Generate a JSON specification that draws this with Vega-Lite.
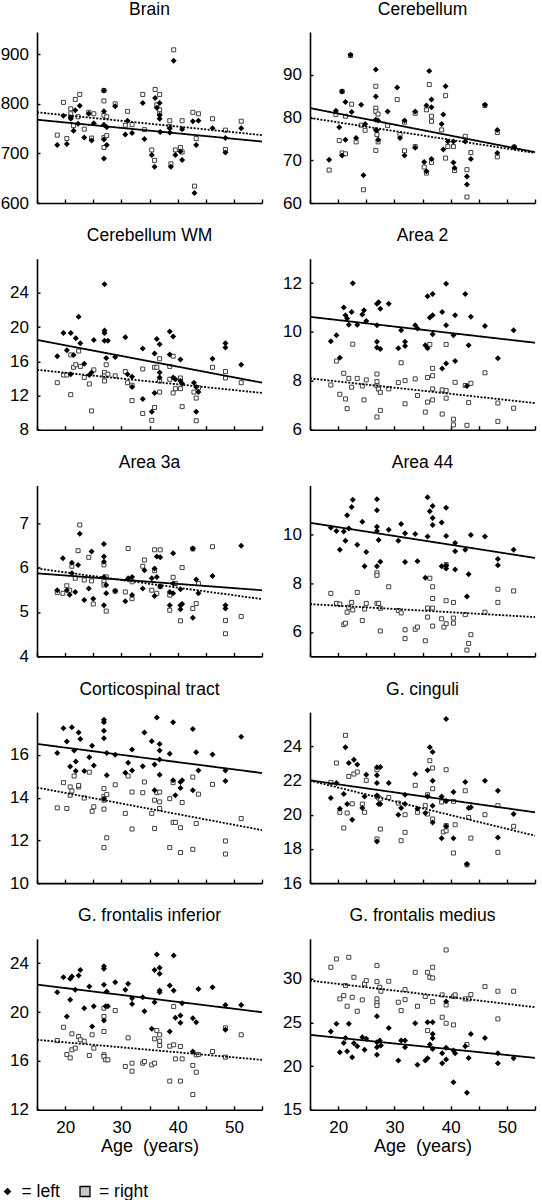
{
"$schema":"https://vega.github.io/schema/vega-lite/v6.json",
"padding":{"left":0,"top":0,"right":0,"bottom":0},
"columns":2,
"bounds":"flush",
"spacing":{"row":55.7,"column":48},
"datasets":{
"p1L":[{"a":18.6,"v":717},{"a":19.7,"v":776},{"a":20.3,"v":719},{"a":21.0,"v":773},{"a":21.0,"v":770},{"a":21.5,"v":746},{"a":21.8,"v":787},{"a":22.3,"v":760},{"a":22.6,"v":796},{"a":23.4,"v":732},{"a":24.2,"v":780},{"a":24.7,"v":726},{"a":25.1,"v":761},{"a":26.9,"v":827},{"a":26.9,"v":785},{"a":26.9,"v":758},{"a":26.9,"v":690},{"a":26.9,"v":728},{"a":27.4,"v":753},{"a":27.4,"v":717},{"a":28.9,"v":795},{"a":30.7,"v":738},{"a":31.1,"v":766},{"a":31.9,"v":741},{"a":33.8,"v":802},{"a":34.1,"v":729},{"a":35.4,"v":697},{"a":35.9,"v":673},{"a":36.0,"v":812},{"a":36.3,"v":792},{"a":36.8,"v":802},{"a":36.8,"v":777},{"a":36.8,"v":770},{"a":36.9,"v":743},{"a":38.6,"v":751},{"a":38.6,"v":742},{"a":38.8,"v":673},{"a":39.3,"v":887},{"a":39.6,"v":697},{"a":40.5,"v":704},{"a":40.8,"v":749},{"a":40.8,"v":687},{"a":42.7,"v":765},{"a":43.0,"v":620},{"a":43.3,"v":717},{"a":43.7,"v":766},{"a":46.2,"v":751},{"a":48.5,"v":731},{"a":48.5,"v":702},{"a":51.3,"v":751}],
"p1R":[{"a":18.6,"v":737},{"a":19.7,"v":803},{"a":20.3,"v":730},{"a":21.0,"v":790},{"a":21.0,"v":780},{"a":21.5,"v":756},{"a":21.8,"v":809},{"a":22.3,"v":774},{"a":22.6,"v":819},{"a":23.4,"v":749},{"a":24.2,"v":783},{"a":24.7,"v":731},{"a":25.1,"v":780},{"a":26.9,"v":827},{"a":26.9,"v":806},{"a":26.9,"v":777},{"a":26.9,"v":712},{"a":26.9,"v":732},{"a":27.4,"v":774},{"a":27.4,"v":736},{"a":28.9,"v":800},{"a":30.7,"v":757},{"a":31.1,"v":785},{"a":31.9,"v":758},{"a":33.8,"v":819},{"a":34.1,"v":748},{"a":35.4,"v":707},{"a":35.9,"v":686},{"a":36.0,"v":829},{"a":36.3,"v":798},{"a":36.8,"v":819},{"a":36.8,"v":788},{"a":36.8,"v":780},{"a":38.6,"v":766},{"a":38.6,"v":754},{"a":38.8,"v":679},{"a":39.3,"v":909},{"a":39.6,"v":707},{"a":40.5,"v":712},{"a":40.8,"v":766},{"a":40.8,"v":703},{"a":42.7,"v":783},{"a":43.0,"v":634},{"a":43.3,"v":730},{"a":43.7,"v":780},{"a":46.2,"v":770},{"a":48.5,"v":747},{"a":48.5,"v":708},{"a":51.3,"v":765}],
"p2L":[{"a":18.4,"v":70.1},{"a":19.6,"v":81.6},{"a":20.2,"v":77.7},{"a":20.7,"v":86.1},{"a":20.7,"v":71.1},{"a":21.3,"v":83.6},{"a":21.3,"v":74.8},{"a":22.2,"v":94.7},{"a":22.4,"v":81.3},{"a":23.2,"v":75.2},{"a":24.1,"v":83.0},{"a":24.5,"v":66.5},{"a":24.8,"v":78.5},{"a":26.7,"v":91.2},{"a":26.7,"v":84.9},{"a":26.7,"v":79.5},{"a":26.7,"v":77.1},{"a":26.9,"v":77.0},{"a":27.1,"v":79.3},{"a":27.1,"v":74.8},{"a":28.8,"v":81.4},{"a":30.5,"v":87.0},{"a":31.0,"v":75.2},{"a":31.8,"v":79.3},{"a":31.8,"v":71.1},{"a":33.7,"v":81.4},{"a":33.7,"v":72.9},{"a":35.3,"v":69.6},{"a":35.7,"v":82.8},{"a":35.7,"v":67.4},{"a":36.2,"v":90.9},{"a":36.6,"v":84.2},{"a":36.6,"v":82.4},{"a":36.6,"v":70.3},{"a":38.4,"v":78.5},{"a":38.7,"v":80.7},{"a":38.7,"v":72.5},{"a":39.1,"v":87.3},{"a":39.5,"v":74.4},{"a":40.5,"v":69.5},{"a":40.5,"v":74.4},{"a":40.7,"v":68.2},{"a":42.6,"v":74.4},{"a":42.9,"v":66.2},{"a":42.9,"v":64.3},{"a":43.6,"v":70.3},{"a":46.1,"v":83.0},{"a":48.3,"v":77.1},{"a":48.3,"v":71.7},{"a":51.3,"v":73.1}],
"p2R":[{"a":18.4,"v":67.7},{"a":19.6,"v":80.7},{"a":20.2,"v":74.6},{"a":20.7,"v":86.1},{"a":20.7,"v":71.7},{"a":21.3,"v":80.3},{"a":21.3,"v":71.5},{"a":22.2,"v":94.5},{"a":22.4,"v":83.1},{"a":23.2,"v":74.3},{"a":24.1,"v":78.2},{"a":24.5,"v":63.1},{"a":24.8,"v":77.0},{"a":26.7,"v":87.3},{"a":26.7,"v":82.2},{"a":26.7,"v":81.4},{"a":26.7,"v":72.3},{"a":26.9,"v":76.0},{"a":27.1,"v":80.8},{"a":27.1,"v":74.3},{"a":28.8,"v":78.1},{"a":30.5,"v":84.2},{"a":31.0,"v":76.0},{"a":31.8,"v":78.9},{"a":31.8,"v":72.2},{"a":33.7,"v":81.0},{"a":33.7,"v":73.2},{"a":35.3,"v":68.4},{"a":35.7,"v":81.8},{"a":35.7,"v":67.0},{"a":36.2,"v":87.7},{"a":36.6,"v":80.3},{"a":36.6,"v":79.1},{"a":36.6,"v":69.5},{"a":38.4,"v":77.1},{"a":39.1,"v":85.1},{"a":39.1,"v":70.5},{"a":39.5,"v":73.2},{"a":40.5,"v":73.2},{"a":40.7,"v":67.6},{"a":42.6,"v":75.6},{"a":42.9,"v":67.8},{"a":42.9,"v":61.4},{"a":43.6,"v":71.8},{"a":46.1,"v":82.8},{"a":48.3,"v":76.5},{"a":48.3,"v":70.8},{"a":51.3,"v":73.1}],
"p3L":[{"a":18.6,"v":16.6},{"a":19.7,"v":19.3},{"a":20.3,"v":17.3},{"a":21.0,"v":19.3},{"a":21.0,"v":14.5},{"a":21.5,"v":16.75},{"a":21.9,"v":18.7},{"a":22.4,"v":21.2},{"a":22.7,"v":18.1},{"a":23.4,"v":15.7},{"a":24.3,"v":14.4},{"a":24.7,"v":14.7},{"a":25.1,"v":18.5},{"a":27.0,"v":25.0},{"a":27.0,"v":19.6},{"a":27.0,"v":19.3},{"a":27.0,"v":18.4},{"a":27.3,"v":16.4},{"a":27.6,"v":18.4},{"a":28.9,"v":16.5},{"a":30.7,"v":18.8},{"a":31.1,"v":14.5},{"a":31.9,"v":14.2},{"a":31.9,"v":13.0},{"a":33.8,"v":17.5},{"a":33.8,"v":11.6},{"a":35.4,"v":10.1},{"a":35.9,"v":16.9},{"a":35.9,"v":12.3},{"a":36.3,"v":18.6},{"a":36.8,"v":18.0},{"a":36.8,"v":14.7},{"a":36.8,"v":14.1},{"a":38.6,"v":19.5},{"a":38.6,"v":16.8},{"a":39.2,"v":18.9},{"a":39.2,"v":14.1},{"a":39.6,"v":13.9},{"a":40.5,"v":16.2},{"a":40.5,"v":13.7},{"a":40.8,"v":13.4},{"a":42.9,"v":13.5},{"a":43.3,"v":13.0},{"a":43.3,"v":10.1},{"a":43.7,"v":12.4},{"a":46.2,"v":16.3},{"a":48.5,"v":18.1},{"a":48.5,"v":17.6},{"a":51.3,"v":15.6}],
"p3R":[{"a":18.6,"v":13.5},{"a":19.7,"v":14.4},{"a":20.3,"v":14.4},{"a":21.0,"v":16.75},{"a":21.0,"v":12.1},{"a":21.5,"v":15.3},{"a":21.9,"v":15.6},{"a":22.4,"v":17.2},{"a":22.7,"v":15.4},{"a":23.4,"v":14.1},{"a":24.3,"v":13.35},{"a":24.7,"v":10.2},{"a":25.1,"v":15.0},{"a":27.0,"v":14.7},{"a":27.0,"v":14.3},{"a":27.0,"v":13.7},{"a":27.3,"v":15.6},{"a":27.6,"v":14.5},{"a":28.9,"v":14.3},{"a":30.7,"v":14.8},{"a":31.1,"v":13.5},{"a":31.9,"v":11.4},{"a":31.9,"v":13.2},{"a":33.8,"v":15.1},{"a":33.8,"v":9.9},{"a":35.4,"v":9.1},{"a":35.9,"v":15.3},{"a":35.9,"v":10.6},{"a":36.3,"v":15.3},{"a":36.8,"v":16.3},{"a":36.8,"v":13.7},{"a":36.8,"v":12.4},{"a":38.6,"v":15.4},{"a":38.6,"v":13.9},{"a":39.2,"v":16.6},{"a":39.2,"v":12.3},{"a":39.6,"v":12.8},{"a":40.5,"v":14.05},{"a":40.5,"v":12.8},{"a":40.8,"v":10.7},{"a":42.9,"v":12.4},{"a":43.3,"v":11.7},{"a":43.3,"v":9.05},{"a":43.7,"v":12.9},{"a":46.2,"v":15.3},{"a":48.5,"v":14.8},{"a":48.5,"v":14.05},{"a":51.3,"v":13.5}],
"p4L":[{"a":18.7,"v":9.62},{"a":19.7,"v":9.87},{"a":20.3,"v":8.95},{"a":21.0,"v":11.0},{"a":21.3,"v":10.68},{"a":21.6,"v":10.55},{"a":21.9,"v":10.3},{"a":22.4,"v":10.82},{"a":22.6,"v":12.0},{"a":23.4,"v":10.3},{"a":24.3,"v":10.72},{"a":24.6,"v":10.89},{"a":25.0,"v":10.45},{"a":26.9,"v":11.16},{"a":26.9,"v":10.28},{"a":26.9,"v":9.6},{"a":26.9,"v":9.37},{"a":27.2,"v":11.22},{"a":27.5,"v":10.95},{"a":27.5,"v":9.3},{"a":29.0,"v":11.16},{"a":30.7,"v":9.33},{"a":31.2,"v":10.07},{"a":31.9,"v":9.6},{"a":31.9,"v":9.43},{"a":33.7,"v":10.28},{"a":34.1,"v":10.14},{"a":35.5,"v":9.46},{"a":35.9,"v":11.46},{"a":35.9,"v":9.33},{"a":36.3,"v":10.59},{"a":36.8,"v":11.56},{"a":36.8,"v":10.68},{"a":36.8,"v":9.91},{"a":38.5,"v":10.82},{"a":38.5,"v":8.51},{"a":39.2,"v":11.97},{"a":39.2,"v":10.28},{"a":39.2,"v":8.71},{"a":40.5,"v":9.87},{"a":40.8,"v":10.68},{"a":40.8,"v":8.81},{"a":42.6,"v":11.56},{"a":42.9,"v":7.79},{"a":43.2,"v":9.46},{"a":43.6,"v":10.62},{"a":46.1,"v":10.25},{"a":48.4,"v":8.92},{"a":51.2,"v":10.07}],
"p4R":[{"a":18.7,"v":7.83},{"a":19.7,"v":8.81},{"a":20.3,"v":7.45},{"a":21.0,"v":8.31},{"a":21.3,"v":7.26},{"a":21.6,"v":6.86},{"a":21.9,"v":8.1},{"a":22.4,"v":7.74},{"a":22.6,"v":9.5},{"a":23.4,"v":8.1},{"a":24.3,"v":7.79},{"a":24.6,"v":7.22},{"a":25.0,"v":8.04},{"a":26.9,"v":8.28},{"a":26.9,"v":7.97},{"a":26.9,"v":7.79},{"a":26.9,"v":6.52},{"a":27.2,"v":7.66},{"a":27.5,"v":6.79},{"a":27.5,"v":7.53},{"a":29.0,"v":7.67},{"a":30.7,"v":7.93},{"a":31.2,"v":8.74},{"a":31.9,"v":8.01},{"a":31.9,"v":7.06},{"a":33.7,"v":8.08},{"a":34.1,"v":7.4},{"a":35.5,"v":6.72},{"a":35.9,"v":8.14},{"a":35.9,"v":7.13},{"a":36.3,"v":9.49},{"a":36.8,"v":8.21},{"a":36.8,"v":8.51},{"a":36.8,"v":7.67},{"a":36.8,"v":7.22},{"a":38.5,"v":6.64},{"a":38.5,"v":7.63},{"a":39.2,"v":9.49},{"a":39.2,"v":7.6},{"a":39.2,"v":7.29},{"a":40.5,"v":6.43},{"a":40.5,"v":6.2},{"a":40.8,"v":7.94},{"a":42.6,"v":7.81},{"a":42.9,"v":6.18},{"a":43.2,"v":7.11},{"a":43.6,"v":7.9},{"a":46.1,"v":8.33},{"a":48.4,"v":7.09},{"a":48.4,"v":6.34},{"a":51.2,"v":6.88}],
"p5L":[{"a":18.6,"v":5.49},{"a":19.6,"v":6.21},{"a":20.3,"v":5.49},{"a":20.8,"v":5.39},{"a":21.2,"v":6.11},{"a":21.2,"v":5.87},{"a":21.8,"v":5.45},{"a":22.3,"v":6.06},{"a":22.6,"v":6.76},{"a":23.4,"v":5.27},{"a":24.2,"v":5.53},{"a":24.7,"v":6.36},{"a":25.0,"v":5.3},{"a":26.9,"v":6.53},{"a":26.9,"v":6.25},{"a":26.9,"v":6.13},{"a":26.9,"v":5.79},{"a":26.9,"v":5.15},{"a":27.3,"v":5.61},{"a":27.3,"v":5.42},{"a":28.9,"v":5.47},{"a":30.7,"v":5.24},{"a":31.2,"v":5.76},{"a":31.9,"v":5.79},{"a":31.9,"v":5.38},{"a":33.8,"v":5.53},{"a":34.1,"v":5.94},{"a":35.4,"v":5.76},{"a":35.9,"v":5.98},{"a":35.9,"v":5.36},{"a":36.3,"v":6.25},{"a":36.3,"v":5.79},{"a":36.9,"v":6.23},{"a":36.9,"v":5.58},{"a":38.6,"v":5.45},{"a":38.6,"v":5.15},{"a":39.2,"v":6.32},{"a":39.2,"v":5.64},{"a":39.2,"v":5.42},{"a":40.5,"v":5.06},{"a":40.5,"v":5.15},{"a":40.5,"v":5.51},{"a":40.8,"v":5.18},{"a":42.7,"v":6.43},{"a":42.7,"v":4.87},{"a":43.3,"v":5.73},{"a":43.7,"v":5.42},{"a":46.2,"v":5.81},{"a":48.5,"v":5.15},{"a":48.5,"v":5.08},{"a":51.3,"v":6.49}],
"p5R":[{"a":18.6,"v":5.44},{"a":19.6,"v":5.42},{"a":20.3,"v":5.59},{"a":20.8,"v":5.49},{"a":21.2,"v":6.03},{"a":21.8,"v":5.76},{"a":22.3,"v":6.38},{"a":22.6,"v":6.96},{"a":23.4,"v":5.72},{"a":24.2,"v":6.23},{"a":24.7,"v":5.7},{"a":25.0,"v":5.18},{"a":26.9,"v":6.06},{"a":26.9,"v":5.7},{"a":26.9,"v":5.61},{"a":27.3,"v":5.79},{"a":27.3,"v":5.02},{"a":28.9,"v":5.47},{"a":30.7,"v":5.45},{"a":31.2,"v":6.43},{"a":31.9,"v":5.68},{"a":31.9,"v":5.3},{"a":33.8,"v":6.03},{"a":34.1,"v":6.17},{"a":35.4,"v":5.49},{"a":35.9,"v":6.4},{"a":35.9,"v":5.93},{"a":36.3,"v":5.42},{"a":36.9,"v":6.4},{"a":36.9,"v":5.57},{"a":38.6,"v":5.38},{"a":38.6,"v":5.04},{"a":39.2,"v":5.78},{"a":39.6,"v":5.64},{"a":40.5,"v":4.8},{"a":40.8,"v":6.0},{"a":42.7,"v":6.42},{"a":42.7,"v":5.08},{"a":43.3,"v":5.19},{"a":43.7,"v":5.64},{"a":46.2,"v":6.47},{"a":48.5,"v":4.81},{"a":48.5,"v":4.51},{"a":51.3,"v":4.9}],
"p6L":[{"a":18.7,"v":10.27},{"a":19.7,"v":10.13},{"a":20.3,"v":9.37},{"a":21.0,"v":10.11},{"a":21.3,"v":9.73},{"a":21.6,"v":10.78},{"a":21.9,"v":10.24},{"a":22.4,"v":11.12},{"a":22.6,"v":11.41},{"a":23.4,"v":9.57},{"a":24.3,"v":10.51},{"a":24.7,"v":8.69},{"a":25.0,"v":9.27},{"a":26.9,"v":11.43},{"a":26.9,"v":10.98},{"a":26.9,"v":10.31},{"a":26.9,"v":10.13},{"a":26.9,"v":8.69},{"a":27.2,"v":9.77},{"a":27.5,"v":8.87},{"a":29.0,"v":10.18},{"a":30.7,"v":9.73},{"a":31.2,"v":10.42},{"a":31.9,"v":10.04},{"a":31.9,"v":8.86},{"a":33.7,"v":10.01},{"a":34.1,"v":8.9},{"a":35.5,"v":8.22},{"a":35.9,"v":11.52},{"a":35.9,"v":9.91},{"a":36.3,"v":10.94},{"a":36.8,"v":11.16},{"a":36.8,"v":10.67},{"a":36.8,"v":10.38},{"a":38.4,"v":10.48},{"a":38.4,"v":8.69},{"a":39.2,"v":11.08},{"a":39.2,"v":9.93},{"a":39.2,"v":8.72},{"a":39.2,"v":8.6},{"a":40.8,"v":9.64},{"a":40.8,"v":9.3},{"a":40.8,"v":8.56},{"a":42.6,"v":9.37},{"a":42.9,"v":7.45},{"a":43.2,"v":8.36},{"a":43.6,"v":9.97},{"a":46.1,"v":9.91},{"a":48.4,"v":8.99},{"a":48.4,"v":8.73},{"a":51.2,"v":9.37}],
"p6R":[{"a":18.7,"v":7.58},{"a":19.7,"v":7.17},{"a":20.3,"v":7.14},{"a":21.0,"v":6.3},{"a":21.3,"v":6.36},{"a":21.6,"v":6.81},{"a":21.9,"v":7.01},{"a":22.4,"v":7.21},{"a":22.6,"v":6.9},{"a":23.4,"v":7.62},{"a":24.3,"v":6.47},{"a":24.7,"v":6.94},{"a":25.0,"v":7.17},{"a":26.9,"v":8.42},{"a":26.9,"v":8.32},{"a":26.9,"v":7.17},{"a":27.2,"v":7.17},{"a":27.5,"v":6.97},{"a":27.5,"v":6.04},{"a":29.0,"v":7.85},{"a":30.7,"v":6.88},{"a":31.2,"v":6.78},{"a":31.9,"v":6.09},{"a":31.9,"v":5.73},{"a":33.7,"v":6.11},{"a":34.1,"v":6.2},{"a":35.5,"v":5.64},{"a":35.9,"v":6.98},{"a":35.9,"v":6.61},{"a":36.3,"v":8.2},{"a":36.8,"v":7.85},{"a":36.8,"v":7.37},{"a":36.8,"v":6.98},{"a":36.8,"v":6.24},{"a":38.4,"v":6.54},{"a":38.8,"v":6.2},{"a":39.2,"v":8.76},{"a":39.2,"v":7.28},{"a":39.2,"v":6.34},{"a":40.5,"v":7.21},{"a":40.5,"v":6.57},{"a":40.5,"v":6.36},{"a":42.6,"v":6.71},{"a":42.9,"v":5.26},{"a":43.2,"v":5.53},{"a":43.6,"v":5.89},{"a":46.1,"v":6.81},{"a":48.4,"v":7.75},{"a":48.4,"v":7.21},{"a":51.2,"v":7.68}],
"p7L":[{"a":18.6,"v":16.09},{"a":19.7,"v":17.24},{"a":20.3,"v":16.62},{"a":20.9,"v":15.46},{"a":21.2,"v":17.29},{"a":21.6,"v":16.2},{"a":21.9,"v":15.69},{"a":21.9,"v":15.24},{"a":22.4,"v":17.05},{"a":22.7,"v":16.74},{"a":23.4,"v":15.24},{"a":24.3,"v":15.89},{"a":24.8,"v":16.43},{"a":25.1,"v":15.5},{"a":26.9,"v":17.64},{"a":26.9,"v":17.52},{"a":26.9,"v":17.13},{"a":26.9,"v":16.78},{"a":26.9,"v":13.95},{"a":27.4,"v":15.04},{"a":27.4,"v":16.09},{"a":28.9,"v":16.0},{"a":30.7,"v":15.16},{"a":31.2,"v":15.63},{"a":31.9,"v":16.25},{"a":31.9,"v":15.27},{"a":33.8,"v":15.47},{"a":34.1,"v":17.05},{"a":35.4,"v":16.64},{"a":35.9,"v":15.55},{"a":35.9,"v":14.34},{"a":36.3,"v":17.75},{"a":36.8,"v":16.51},{"a":36.8,"v":16.2},{"a":36.8,"v":15.78},{"a":36.8,"v":15.07},{"a":38.6,"v":16.05},{"a":39.2,"v":17.52},{"a":39.2,"v":14.81},{"a":39.6,"v":14.11},{"a":40.5,"v":14.73},{"a":40.5,"v":14.45},{"a":40.8,"v":14.81},{"a":42.7,"v":17.21},{"a":42.7,"v":14.34},{"a":43.3,"v":16.12},{"a":43.7,"v":15.27},{"a":46.2,"v":16.02},{"a":48.5,"v":15.27},{"a":48.5,"v":14.78},{"a":51.3,"v":16.85}],
"p7R":[{"a":18.6,"v":13.52},{"a":19.7,"v":14.7},{"a":20.3,"v":13.49},{"a":20.9,"v":14.11},{"a":20.9,"v":14.5},{"a":21.2,"v":14.31},{"a":21.6,"v":15.01},{"a":22.4,"v":14.5},{"a":22.4,"v":14.57},{"a":23.4,"v":13.98},{"a":24.3,"v":15.19},{"a":24.8,"v":13.36},{"a":25.1,"v":13.57},{"a":26.9,"v":14.42},{"a":26.9,"v":14.06},{"a":26.9,"v":13.88},{"a":26.9,"v":13.46},{"a":26.9,"v":11.66},{"a":27.4,"v":14.14},{"a":27.4,"v":12.12},{"a":28.9,"v":14.6},{"a":30.7,"v":13.26},{"a":31.2,"v":15.01},{"a":31.9,"v":14.26},{"a":31.9,"v":12.53},{"a":33.8,"v":14.23},{"a":34.1,"v":14.73},{"a":35.4,"v":13.26},{"a":35.9,"v":13.88},{"a":35.9,"v":12.56},{"a":36.3,"v":14.23},{"a":36.8,"v":14.26},{"a":36.8,"v":13.8},{"a":36.8,"v":13.49},{"a":38.6,"v":13.95},{"a":38.6,"v":11.66},{"a":39.2,"v":14.7},{"a":39.2,"v":12.84},{"a":39.6,"v":12.84},{"a":40.5,"v":12.59},{"a":40.5,"v":11.43},{"a":40.8,"v":13.77},{"a":42.7,"v":14.96},{"a":42.7,"v":11.58},{"a":43.3,"v":12.79},{"a":43.7,"v":14.16},{"a":46.2,"v":14.62},{"a":48.5,"v":11.97},{"a":48.5,"v":11.36},{"a":51.3,"v":13.02}],
"p8L":[{"a":18.7,"v":20.98},{"a":19.7,"v":21.85},{"a":20.3,"v":20.35},{"a":21.0,"v":21.21},{"a":21.3,"v":23.94},{"a":21.6,"v":20.62},{"a":21.9,"v":23.02},{"a":22.5,"v":19.71},{"a":22.8,"v":23.22},{"a":23.4,"v":22.93},{"a":24.3,"v":20.39},{"a":24.7,"v":21.07},{"a":25.0,"v":22.34},{"a":26.9,"v":22.77},{"a":26.9,"v":22.3},{"a":26.9,"v":21.85},{"a":26.9,"v":21.13},{"a":26.9,"v":18.44},{"a":27.2,"v":20.62},{"a":27.5,"v":22.79},{"a":27.5,"v":20.62},{"a":29.0,"v":21.85},{"a":30.7,"v":20.0},{"a":31.2,"v":20.39},{"a":31.9,"v":21.17},{"a":31.9,"v":20.62},{"a":33.7,"v":22.38},{"a":34.1,"v":20.35},{"a":35.5,"v":20.1},{"a":35.9,"v":22.6},{"a":35.9,"v":21.07},{"a":36.3,"v":23.94},{"a":36.8,"v":23.67},{"a":36.8,"v":21.99},{"a":36.8,"v":20.53},{"a":36.8,"v":19.55},{"a":38.4,"v":21.07},{"a":38.4,"v":18.63},{"a":39.2,"v":25.6},{"a":39.2,"v":20.78},{"a":39.2,"v":19.32},{"a":40.5,"v":21.33},{"a":40.5,"v":18.63},{"a":42.6,"v":21.91},{"a":42.9,"v":17.11},{"a":43.2,"v":20.39},{"a":43.6,"v":20.43},{"a":46.1,"v":21.99},{"a":48.4,"v":21.4},{"a":48.4,"v":18.67},{"a":51.2,"v":20.04}],
"p8R":[{"a":18.7,"v":21.89},{"a":19.7,"v":23.02},{"a":20.3,"v":20.14},{"a":21.0,"v":19.22},{"a":21.3,"v":24.64},{"a":21.6,"v":20.1},{"a":21.9,"v":22.24},{"a":22.5,"v":20.64},{"a":22.8,"v":22.38},{"a":23.4,"v":22.5},{"a":24.3,"v":20.62},{"a":24.7,"v":20.14},{"a":25.0,"v":22.01},{"a":26.9,"v":22.63},{"a":26.9,"v":21.07},{"a":26.9,"v":18.58},{"a":27.2,"v":20.98},{"a":27.5,"v":19.16},{"a":27.5,"v":20.92},{"a":29.0,"v":21.01},{"a":30.7,"v":20.68},{"a":31.2,"v":18.48},{"a":31.9,"v":20.0},{"a":31.9,"v":18.97},{"a":33.7,"v":21.72},{"a":34.1,"v":20.14},{"a":35.5,"v":20.53},{"a":35.9,"v":21.17},{"a":35.9,"v":20.04},{"a":36.3,"v":23.16},{"a":36.8,"v":22.73},{"a":36.8,"v":21.52},{"a":36.8,"v":19.75},{"a":38.4,"v":20.74},{"a":38.7,"v":18.99},{"a":39.2,"v":22.63},{"a":39.2,"v":19.36},{"a":39.2,"v":19.06},{"a":40.5,"v":20.78},{"a":40.5,"v":17.76},{"a":40.8,"v":19.41},{"a":42.6,"v":21.4},{"a":42.9,"v":17.07},{"a":43.2,"v":19.84},{"a":43.6,"v":18.63},{"a":46.1,"v":20.0},{"a":48.4,"v":20.53},{"a":48.4,"v":17.8},{"a":51.2,"v":19.32}],
"p9L":[{"a":18.6,"v":21.63},{"a":19.7,"v":22.85},{"a":20.3,"v":19.64},{"a":20.9,"v":21.0},{"a":20.9,"v":22.72},{"a":21.2,"v":22.91},{"a":21.8,"v":21.82},{"a":22.4,"v":22.99},{"a":22.7,"v":23.45},{"a":23.4,"v":20.32},{"a":24.3,"v":22.09},{"a":24.8,"v":18.82},{"a":25.1,"v":20.48},{"a":26.9,"v":23.75},{"a":26.9,"v":23.54},{"a":26.9,"v":22.23},{"a":26.9,"v":19.31},{"a":27.2,"v":20.48},{"a":27.4,"v":21.68},{"a":27.6,"v":20.48},{"a":28.9,"v":22.44},{"a":30.7,"v":21.82},{"a":31.2,"v":22.31},{"a":31.9,"v":21.14},{"a":31.9,"v":20.67},{"a":33.8,"v":21.22},{"a":34.1,"v":20.07},{"a":35.4,"v":18.63},{"a":35.9,"v":23.45},{"a":35.9,"v":20.81},{"a":36.3,"v":24.71},{"a":36.8,"v":23.62},{"a":36.8,"v":23.13},{"a":36.8,"v":21.76},{"a":36.8,"v":21.63},{"a":38.6,"v":22.17},{"a":38.6,"v":18.41},{"a":39.3,"v":24.63},{"a":39.3,"v":21.76},{"a":39.6,"v":19.53},{"a":40.5,"v":19.72},{"a":40.5,"v":19.12},{"a":40.8,"v":20.73},{"a":42.7,"v":19.5},{"a":42.7,"v":16.77},{"a":43.3,"v":19.17},{"a":43.7,"v":21.9},{"a":46.2,"v":22.04},{"a":48.5,"v":20.59},{"a":48.5,"v":18.55},{"a":51.3,"v":20.59}],
"p9R":[{"a":18.6,"v":17.67},{"a":19.7,"v":18.76},{"a":20.3,"v":16.53},{"a":20.9,"v":16.25},{"a":21.2,"v":16.91},{"a":21.2,"v":18.22},{"a":21.8,"v":17.05},{"a":22.4,"v":18.0},{"a":22.7,"v":17.73},{"a":23.4,"v":17.62},{"a":24.3,"v":16.45},{"a":24.8,"v":18.14},{"a":25.1,"v":17.05},{"a":26.9,"v":20.32},{"a":26.9,"v":19.64},{"a":26.9,"v":18.41},{"a":26.9,"v":16.5},{"a":26.9,"v":16.36},{"a":27.2,"v":16.09},{"a":27.6,"v":16.09},{"a":28.9,"v":20.13},{"a":30.7,"v":15.55},{"a":31.2,"v":17.89},{"a":31.9,"v":15.82},{"a":31.9,"v":15.16},{"a":33.8,"v":15.82},{"a":34.1,"v":15.95},{"a":35.4,"v":15.68},{"a":35.9,"v":17.81},{"a":35.9,"v":15.82},{"a":36.3,"v":18.49},{"a":36.8,"v":18.14},{"a":36.8,"v":17.62},{"a":36.8,"v":17.26},{"a":38.6,"v":17.21},{"a":38.6,"v":14.35},{"a":39.3,"v":20.45},{"a":39.3,"v":17.32},{"a":39.6,"v":16.17},{"a":40.5,"v":17.18},{"a":40.5,"v":14.35},{"a":40.8,"v":16.17},{"a":42.7,"v":15.63},{"a":42.7,"v":13.25},{"a":43.3,"v":15.08},{"a":43.3,"v":16.5},{"a":43.7,"v":16.53},{"a":46.2,"v":16.77},{"a":48.5,"v":18.71},{"a":48.5,"v":16.31},{"a":51.3,"v":18.14}],
"p10L":[{"a":18.7,"v":23.97},{"a":19.7,"v":24.85},{"a":20.3,"v":21.6},{"a":21.0,"v":22.67},{"a":21.3,"v":23.24},{"a":21.6,"v":21.72},{"a":21.9,"v":24.85},{"a":22.5,"v":21.03},{"a":22.8,"v":22.63},{"a":23.4,"v":22.29},{"a":24.3,"v":23.32},{"a":24.7,"v":21.87},{"a":25.0,"v":23.13},{"a":26.9,"v":25.73},{"a":26.9,"v":22.75},{"a":26.9,"v":22.18},{"a":26.9,"v":21.3},{"a":27.4,"v":22.94},{"a":27.6,"v":22.37},{"a":29.0,"v":24.39},{"a":30.7,"v":20.65},{"a":31.2,"v":22.94},{"a":31.9,"v":22.94},{"a":31.9,"v":22.18},{"a":33.7,"v":24.92},{"a":34.1,"v":20.15},{"a":35.5,"v":20.65},{"a":35.9,"v":25.04},{"a":35.9,"v":20.92},{"a":36.3,"v":22.48},{"a":36.8,"v":25.04},{"a":36.8,"v":23.7},{"a":36.8,"v":23.21},{"a":36.8,"v":21.98},{"a":38.5,"v":21.49},{"a":38.5,"v":20.34},{"a":39.2,"v":27.4},{"a":39.2,"v":22.1},{"a":39.2,"v":20.76},{"a":40.5,"v":21.79},{"a":40.5,"v":18.17},{"a":40.8,"v":21.49},{"a":42.6,"v":22.29},{"a":42.9,"v":16.95},{"a":43.2,"v":20.95},{"a":43.6,"v":23.7},{"a":46.1,"v":23.24},{"a":48.4,"v":21.49},{"a":48.4,"v":20.34},{"a":51.2,"v":20.92}],
"p10R":[{"a":18.7,"v":31.34},{"a":19.7,"v":32.29},{"a":20.3,"v":27.71},{"a":21.0,"v":28.09},{"a":21.3,"v":29.24},{"a":21.6,"v":26.87},{"a":21.9,"v":32.48},{"a":22.5,"v":27.9},{"a":22.8,"v":30.19},{"a":23.4,"v":26.3},{"a":24.3,"v":27.6},{"a":24.7,"v":29.43},{"a":25.0,"v":29.81},{"a":26.9,"v":31.53},{"a":26.9,"v":29.69},{"a":26.9,"v":27.71},{"a":26.9,"v":27.25},{"a":26.9,"v":26.95},{"a":27.4,"v":29.05},{"a":27.6,"v":28.59},{"a":29.0,"v":29.73},{"a":30.7,"v":27.33},{"a":31.2,"v":26.37},{"a":31.9,"v":28.78},{"a":31.9,"v":27.63},{"a":33.7,"v":30.76},{"a":34.1,"v":26.87},{"a":35.5,"v":27.98},{"a":35.9,"v":30.76},{"a":35.9,"v":24.08},{"a":36.3,"v":30.19},{"a":36.8,"v":31.34},{"a":36.8,"v":30.11},{"a":36.8,"v":27.4},{"a":38.5,"v":28.17},{"a":38.5,"v":25.61},{"a":39.2,"v":33.32},{"a":39.2,"v":27.02},{"a":39.2,"v":24.92},{"a":40.5,"v":27.98},{"a":40.5,"v":24.73},{"a":40.8,"v":28.17},{"a":42.6,"v":27.71},{"a":42.9,"v":22.48},{"a":43.2,"v":27.71},{"a":43.6,"v":28.21},{"a":46.1,"v":29.12},{"a":48.4,"v":28.59},{"a":48.4,"v":25.42},{"a":51.2,"v":28.59}],
"lines":[{"r":1,"s":"L","a":15,"v":768},{"r":1,"s":"L","a":55,"v":724},{"r":1,"s":"R","a":15,"v":783},{"r":1,"s":"R","a":55,"v":737},
{"r":2,"s":"L","a":15,"v":82.2},{"r":2,"s":"L","a":55,"v":71.9},{"r":2,"s":"R","a":15,"v":79.9},{"r":2,"s":"R","a":55,"v":71.7},
{"r":3,"s":"L","a":15,"v":18.5},{"r":3,"s":"L","a":55,"v":13.5},{"r":3,"s":"R","a":15,"v":15.0},{"r":3,"s":"R","a":55,"v":12.3},
{"r":4,"s":"L","a":15,"v":10.62},{"r":4,"s":"L","a":55,"v":9.56},{"r":4,"s":"R","a":15,"v":8.10},{"r":4,"s":"R","a":55,"v":7.09},
{"r":5,"s":"L","a":15,"v":5.87},{"r":5,"s":"L","a":55,"v":5.49},{"r":5,"s":"R","a":15,"v":5.98},{"r":5,"s":"R","a":55,"v":5.29},
{"r":6,"s":"L","a":15,"v":10.47},{"r":6,"s":"L","a":55,"v":9.03},{"r":6,"s":"R","a":15,"v":7.14},{"r":6,"s":"R","a":55,"v":6.61},
{"r":7,"s":"L","a":15,"v":16.51},{"r":7,"s":"L","a":55,"v":15.15},{"r":7,"s":"R","a":15,"v":14.47},{"r":7,"s":"R","a":55,"v":12.48},
{"r":8,"s":"L","a":15,"v":22.01},{"r":8,"s":"L","a":55,"v":20.14},{"r":8,"s":"R","a":15,"v":21.99},{"r":8,"s":"R","a":55,"v":18.77},
{"r":9,"s":"L","a":15,"v":22.25},{"r":9,"s":"L","a":55,"v":19.99},{"r":9,"s":"R","a":15,"v":17.73},{"r":9,"s":"R","a":55,"v":16.09},
{"r":10,"s":"L","a":15,"v":23.59},{"r":10,"s":"L","a":55,"v":20.95},{"r":10,"s":"R","a":15,"v":29.81},{"r":10,"s":"R","a":55,"v":26.76}],
"key":[{"k":"left","t":"= left"},{"k":"right","t":"= right"}]
},
"concat":[
{"title":"Brain","width":225,"height":171,
 "encoding":{"x":{"field":"a","type":"quantitative","scale":{"domain":[15,55],"nice":false,"zero":false},"axis":{"values":[15,20,25,30,35,40,45,50,55],"labels":false,"title":null}},
  "y":{"field":"v","type":"quantitative","scale":{"domain":[600,945],"nice":false,"zero":false},"axis":{"values":[600,700,800,900],"title":null}}},
 "layer":[
  {"data":{"name":"p1R"},"mark":{"type":"point","shape":"square","filled":true,"fill":"white","stroke":"#404040","strokeWidth":1,"size":16,"opacity":1}},
  {"data":{"name":"p1L"},"mark":{"type":"point","shape":"diamond","filled":true,"fill":"black","strokeWidth":0,"size":36,"opacity":1}},
  {"data":{"name":"lines"},"transform":[{"filter":"datum.r==1"}],"mark":{"type":"line","color":"black","strokeWidth":1.8},"encoding":{"strokeDash":{"field":"s","type":"nominal","scale":{"domain":["L","R"],"range":[[1,0],[2,1.5]]},"legend":null}}}
 ]},
{"title":"Cerebellum","width":225,"height":171,
 "encoding":{"x":{"field":"a","type":"quantitative","scale":{"domain":[15,55],"nice":false,"zero":false},"axis":{"values":[15,20,25,30,35,40,45,50,55],"labels":false,"title":null}},
  "y":{"field":"v","type":"quantitative","scale":{"domain":[60,100],"nice":false,"zero":false},"axis":{"values":[60,70,80,90],"title":null}}},
 "layer":[
  {"data":{"name":"p2R"},"mark":{"type":"point","shape":"square","filled":true,"fill":"white","stroke":"#404040","strokeWidth":1,"size":16,"opacity":1}},
  {"data":{"name":"p2L"},"mark":{"type":"point","shape":"diamond","filled":true,"fill":"black","strokeWidth":0,"size":36,"opacity":1}},
  {"data":{"name":"lines"},"transform":[{"filter":"datum.r==2"}],"mark":{"type":"line","color":"black","strokeWidth":1.8},"encoding":{"strokeDash":{"field":"s","type":"nominal","scale":{"domain":["L","R"],"range":[[1,0],[2,1.5]]},"legend":null}}}
 ]},
{"title":"Cerebellum WM","width":225,"height":171,
 "encoding":{"x":{"field":"a","type":"quantitative","scale":{"domain":[15,55],"nice":false,"zero":false},"axis":{"values":[15,20,25,30,35,40,45,50,55],"labels":false,"title":null}},
  "y":{"field":"v","type":"quantitative","scale":{"domain":[8,28],"nice":false,"zero":false},"axis":{"values":[8,12,16,20,24],"title":null}}},
 "layer":[
  {"data":{"name":"p3R"},"mark":{"type":"point","shape":"square","filled":true,"fill":"white","stroke":"#404040","strokeWidth":1,"size":16,"opacity":1}},
  {"data":{"name":"p3L"},"mark":{"type":"point","shape":"diamond","filled":true,"fill":"black","strokeWidth":0,"size":36,"opacity":1}},
  {"data":{"name":"lines"},"transform":[{"filter":"datum.r==3"}],"mark":{"type":"line","color":"black","strokeWidth":1.8},"encoding":{"strokeDash":{"field":"s","type":"nominal","scale":{"domain":["L","R"],"range":[[1,0],[2,1.5]]},"legend":null}}}
 ]},
{"title":"Area 2","width":225,"height":171,
 "encoding":{"x":{"field":"a","type":"quantitative","scale":{"domain":[15,55],"nice":false,"zero":false},"axis":{"values":[15,20,25,30,35,40,45,50,55],"labels":false,"title":null}},
  "y":{"field":"v","type":"quantitative","scale":{"domain":[6,13],"nice":false,"zero":false},"axis":{"values":[6,8,10,12],"title":null}}},
 "layer":[
  {"data":{"name":"p4R"},"mark":{"type":"point","shape":"square","filled":true,"fill":"white","stroke":"#404040","strokeWidth":1,"size":16,"opacity":1}},
  {"data":{"name":"p4L"},"mark":{"type":"point","shape":"diamond","filled":true,"fill":"black","strokeWidth":0,"size":36,"opacity":1}},
  {"data":{"name":"lines"},"transform":[{"filter":"datum.r==4"}],"mark":{"type":"line","color":"black","strokeWidth":1.8},"encoding":{"strokeDash":{"field":"s","type":"nominal","scale":{"domain":["L","R"],"range":[[1,0],[2,1.5]]},"legend":null}}}
 ]},
{"title":"Area 3a","width":225,"height":171,
 "encoding":{"x":{"field":"a","type":"quantitative","scale":{"domain":[15,55],"nice":false,"zero":false},"axis":{"values":[15,20,25,30,35,40,45,50,55],"labels":false,"title":null}},
  "y":{"field":"v","type":"quantitative","scale":{"domain":[4,7.85],"nice":false,"zero":false},"axis":{"values":[4,5,6,7],"title":null}}},
 "layer":[
  {"data":{"name":"p5R"},"mark":{"type":"point","shape":"square","filled":true,"fill":"white","stroke":"#404040","strokeWidth":1,"size":16,"opacity":1}},
  {"data":{"name":"p5L"},"mark":{"type":"point","shape":"diamond","filled":true,"fill":"black","strokeWidth":0,"size":36,"opacity":1}},
  {"data":{"name":"lines"},"transform":[{"filter":"datum.r==5"}],"mark":{"type":"line","color":"black","strokeWidth":1.8},"encoding":{"strokeDash":{"field":"s","type":"nominal","scale":{"domain":["L","R"],"range":[[1,0],[2,1.5]]},"legend":null}}}
 ]},
{"title":"Area 44","width":225,"height":171,
 "encoding":{"x":{"field":"a","type":"quantitative","scale":{"domain":[15,55],"nice":false,"zero":false},"axis":{"values":[15,20,25,30,35,40,45,50,55],"labels":false,"title":null}},
  "y":{"field":"v","type":"quantitative","scale":{"domain":[5,12],"nice":false,"zero":false},"axis":{"values":[6,8,10],"title":null}}},
 "layer":[
  {"data":{"name":"p6R"},"mark":{"type":"point","shape":"square","filled":true,"fill":"white","stroke":"#404040","strokeWidth":1,"size":16,"opacity":1}},
  {"data":{"name":"p6L"},"mark":{"type":"point","shape":"diamond","filled":true,"fill":"black","strokeWidth":0,"size":36,"opacity":1}},
  {"data":{"name":"lines"},"transform":[{"filter":"datum.r==6"}],"mark":{"type":"line","color":"black","strokeWidth":1.8},"encoding":{"strokeDash":{"field":"s","type":"nominal","scale":{"domain":["L","R"],"range":[[1,0],[2,1.5]]},"legend":null}}}
 ]},
{"title":"Corticospinal tract","width":225,"height":171,
 "encoding":{"x":{"field":"a","type":"quantitative","scale":{"domain":[15,55],"nice":false,"zero":false},"axis":{"values":[15,20,25,30,35,40,45,50,55],"labels":false,"title":null}},
  "y":{"field":"v","type":"quantitative","scale":{"domain":[10,18],"nice":false,"zero":false},"axis":{"values":[10,12,14,16],"title":null}}},
 "layer":[
  {"data":{"name":"p7R"},"mark":{"type":"point","shape":"square","filled":true,"fill":"white","stroke":"#404040","strokeWidth":1,"size":16,"opacity":1}},
  {"data":{"name":"p7L"},"mark":{"type":"point","shape":"diamond","filled":true,"fill":"black","strokeWidth":0,"size":36,"opacity":1}},
  {"data":{"name":"lines"},"transform":[{"filter":"datum.r==7"}],"mark":{"type":"line","color":"black","strokeWidth":1.8},"encoding":{"strokeDash":{"field":"s","type":"nominal","scale":{"domain":["L","R"],"range":[[1,0],[2,1.5]]},"legend":null}}}
 ]},
{"title":"G. cinguli","width":225,"height":171,
 "encoding":{"x":{"field":"a","type":"quantitative","scale":{"domain":[15,55],"nice":false,"zero":false},"axis":{"values":[15,20,25,30,35,40,45,50,55],"labels":false,"title":null}},
  "y":{"field":"v","type":"quantitative","scale":{"domain":[16,26],"nice":false,"zero":false},"axis":{"values":[16,18,20,22,24],"title":null}}},
 "layer":[
  {"data":{"name":"p8R"},"mark":{"type":"point","shape":"square","filled":true,"fill":"white","stroke":"#404040","strokeWidth":1,"size":16,"opacity":1}},
  {"data":{"name":"p8L"},"mark":{"type":"point","shape":"diamond","filled":true,"fill":"black","strokeWidth":0,"size":36,"opacity":1}},
  {"data":{"name":"lines"},"transform":[{"filter":"datum.r==8"}],"mark":{"type":"line","color":"black","strokeWidth":1.8},"encoding":{"strokeDash":{"field":"s","type":"nominal","scale":{"domain":["L","R"],"range":[[1,0],[2,1.5]]},"legend":null}}}
 ]},
{"title":"G. frontalis inferior","width":225,"height":171,
 "encoding":{"x":{"field":"a","type":"quantitative","scale":{"domain":[15,55],"nice":false,"zero":false},"axis":{"values":[15,20,25,30,35,40,45,50,55],"labelExpr":"datum.value%10==0 && datum.value>15 && datum.value<55 ? datum.label : ''","title":"Age\u00a0\u00a0(years)"}},
  "y":{"field":"v","type":"quantitative","scale":{"domain":[12,26],"nice":false,"zero":false},"axis":{"values":[12,16,20,24],"title":null}}},
 "layer":[
  {"data":{"name":"p9R"},"mark":{"type":"point","shape":"square","filled":true,"fill":"white","stroke":"#404040","strokeWidth":1,"size":16,"opacity":1}},
  {"data":{"name":"p9L"},"mark":{"type":"point","shape":"diamond","filled":true,"fill":"black","strokeWidth":0,"size":36,"opacity":1}},
  {"data":{"name":"lines"},"transform":[{"filter":"datum.r==9"}],"mark":{"type":"line","color":"black","strokeWidth":1.8},"encoding":{"strokeDash":{"field":"s","type":"nominal","scale":{"domain":["L","R"],"range":[[1,0],[2,1.5]]},"legend":null}}}
 ]},
{"title":"G. frontalis medius","width":225,"height":171,
 "encoding":{"x":{"field":"a","type":"quantitative","scale":{"domain":[15,55],"nice":false,"zero":false},"axis":{"values":[15,20,25,30,35,40,45,50,55],"labelExpr":"datum.value%10==0 && datum.value>15 && datum.value<55 ? datum.label : ''","title":"Age\u00a0\u00a0(years)"}},
  "y":{"field":"v","type":"quantitative","scale":{"domain":[15,34.6],"nice":false,"zero":false},"axis":{"values":[15,20,25,30],"title":null}}},
 "layer":[
  {"data":{"name":"p10R"},"mark":{"type":"point","shape":"square","filled":true,"fill":"white","stroke":"#404040","strokeWidth":1,"size":16,"opacity":1}},
  {"data":{"name":"p10L"},"mark":{"type":"point","shape":"diamond","filled":true,"fill":"black","strokeWidth":0,"size":36,"opacity":1}},
  {"data":{"name":"lines"},"transform":[{"filter":"datum.r==10"}],"mark":{"type":"line","color":"black","strokeWidth":1.8},"encoding":{"strokeDash":{"field":"s","type":"nominal","scale":{"domain":["L","R"],"range":[[1,0],[2,1.5]]},"legend":null}}}
 ]},
{"width":150,"height":52,
 "data":{"name":"key"},
 "encoding":{"x":{"field":"k","type":"nominal","scale":{"type":"point","padding":0,"domain":["left","right"],"range":[-29.5,48]},"axis":null}},
 "layer":[
  {"transform":[{"filter":"datum.k==='left'"}],"mark":{"type":"point","shape":"diamond","filled":true,"fill":"black","strokeWidth":0,"size":60,"opacity":1}},
  {"transform":[{"filter":"datum.k==='right'"}],"mark":{"type":"point","shape":"square","filled":true,"fill":"#c8c8c8","stroke":"black","strokeWidth":1.3,"size":100,"opacity":1}},
  {"mark":{"type":"text","align":"left","baseline":"middle","dx":14,"font":"Liberation Sans","fontSize":17.5,"color":"black"},"encoding":{"text":{"field":"t"}}}
 ]}
],
"config":{
 "view":{"stroke":null},
 "font":"Liberation Sans",
 "title":{"font":"Liberation Sans","fontSize":17.5,"fontWeight":"normal","color":"black","offset":14},
 "axis":{"grid":false,"domainColor":"black","domainWidth":1.6,"tickColor":"black","tickWidth":1.4,"labelFont":"Liberation Sans","labelFontSize":17,"labelColor":"black","titleFont":"Liberation Sans","titleFontSize":18,"titleFontWeight":"normal","titleColor":"black","labelOverlap":false},
 "axisX":{"tickSize":-4,"labelPadding":14,"titlePadding":2,"labelFlush":false},
 "axisY":{"tickSize":-3,"labelPadding":11.5}
}
}
